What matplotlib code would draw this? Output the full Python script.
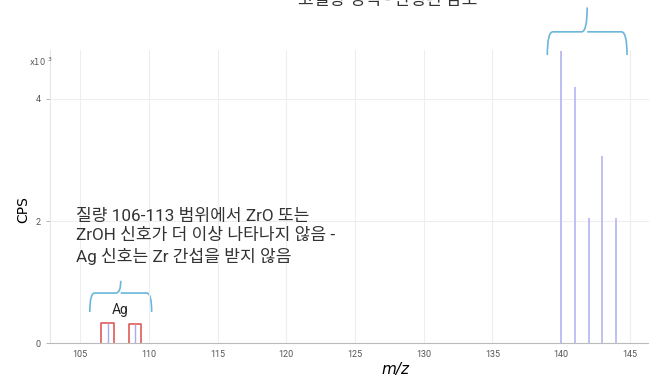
import numpy as np
import matplotlib.pyplot as plt
from matplotlib.path import Path
from matplotlib.patches import PathPatch

plt.rcParams['font.family'] = ['Roboto', 'Noto Sans CJK KR', 'DejaVu Sans']

# Ag isotopes (x10^3 CPS)
agMass = [107, 109]
agCps = [0.33, 0.31]
agWidth = 0.9

# high mass peaks (x10^3 CPS)
hiMass = [140, 141, 142, 143, 144]
hiCps = [4.78, 4.2, 2.05, 3.07, 2.05]

xTicks = [105, 110, 115, 120, 125, 130, 135, 140, 145]
yTicks = [0, 2, 4]

noteText = "질량 106-113 범위에서 ZrO 또는\nZrOH 신호가 더 이상 나타나지 않음 -\nAg 신호는 Zr 간섭을 받지 않음"
topText = "고질량 영역 - 안정된 감도"

braceColor = '#6bb6d9'


def brace(ax, x0, x1, yEnd, yMid, yTip, r):
    xm = (x0 + x1) / 2
    verts = [(x0, yEnd), (x0, yMid), (x0 + r, yMid),
             (xm - r, yMid),
             (xm, yMid), (xm, yTip),
             (xm, yMid), (xm + r, yMid),
             (x1 - r, yMid),
             (x1, yMid), (x1, yEnd)]
    codes = [Path.MOVETO, Path.CURVE3, Path.CURVE3,
             Path.LINETO,
             Path.CURVE3, Path.CURVE3,
             Path.MOVETO, Path.CURVE3,
             Path.LINETO,
             Path.CURVE3, Path.CURVE3]
    ax.add_patch(PathPatch(Path(verts, codes), fill=False, edgecolor=braceColor,
                           lw=1.2, clip_on=False))


fig = plt.figure(figsize=(6.49, 3.77), dpi=100)
ax = fig.add_axes([0.077, 0.09, 0.923, 0.777])

for c, h in zip(agMass, agCps):
    ax.plot([c - agWidth / 2, c - agWidth / 2, c + agWidth / 2, c + agWidth / 2],
            [0, h, h, 0], color='#e05a5a', lw=1.2)
    ax.vlines(c, 0, h, color='#a9a9ee', lw=1.0)

ax.vlines(hiMass, 0, hiCps, color='#b4b4f0', lw=1.2)

ax.set_xlim(102.8, 146.4)
ax.set_ylim(0, 4.8)
ax.set_xticks(xTicks)
ax.set_yticks(yTicks)
ax.tick_params(axis='x', length=0, labelsize=6.5, labelcolor='#555555', pad=5)
ax.tick_params(axis='y', length=3, width=0.6, color='#aaaaaa', labelsize=6.5,
               labelcolor='#555555')
ax.grid(True, color='#eeeeee', lw=0.8)
for s in ['top', 'right']:
    ax.spines[s].set_visible(False)
ax.spines['left'].set_color('#e6e6e6')
ax.spines['bottom'].set_color('#bbbbbb')

ax.set_xlabel('m/z', fontstyle='italic', fontsize=11, family='DejaVu Sans')
ax.xaxis.set_label_coords(0.576, -0.065)
ax.set_ylabel('CPS', fontsize=10, family='DejaVu Sans')
ax.yaxis.set_label_coords(-0.033, 0.455)
fig.text(0.045, 0.825, 'x10 $^{3}$', fontsize=6, color='#555555', family='DejaVu Sans')

brace(ax, 105.7, 110.2, 0.51, 0.82, 1.02, 0.35)
ax.text(107.9, 0.55, 'Ag', ha='center', va='center', fontsize=10, color='#222222')
brace(ax, 139.0, 144.8, 4.72, 5.1, 5.5, 0.4)

ax.text(104.7, 1.74, noteText, ha='left', va='center', fontsize=12.3,
        color='#333333', linespacing=1.35)
fig.text(0.598, 1.0, topText, ha='center', va='center', fontsize=12.3, color='#333333')

fig.savefig('out.png', dpi=100)
